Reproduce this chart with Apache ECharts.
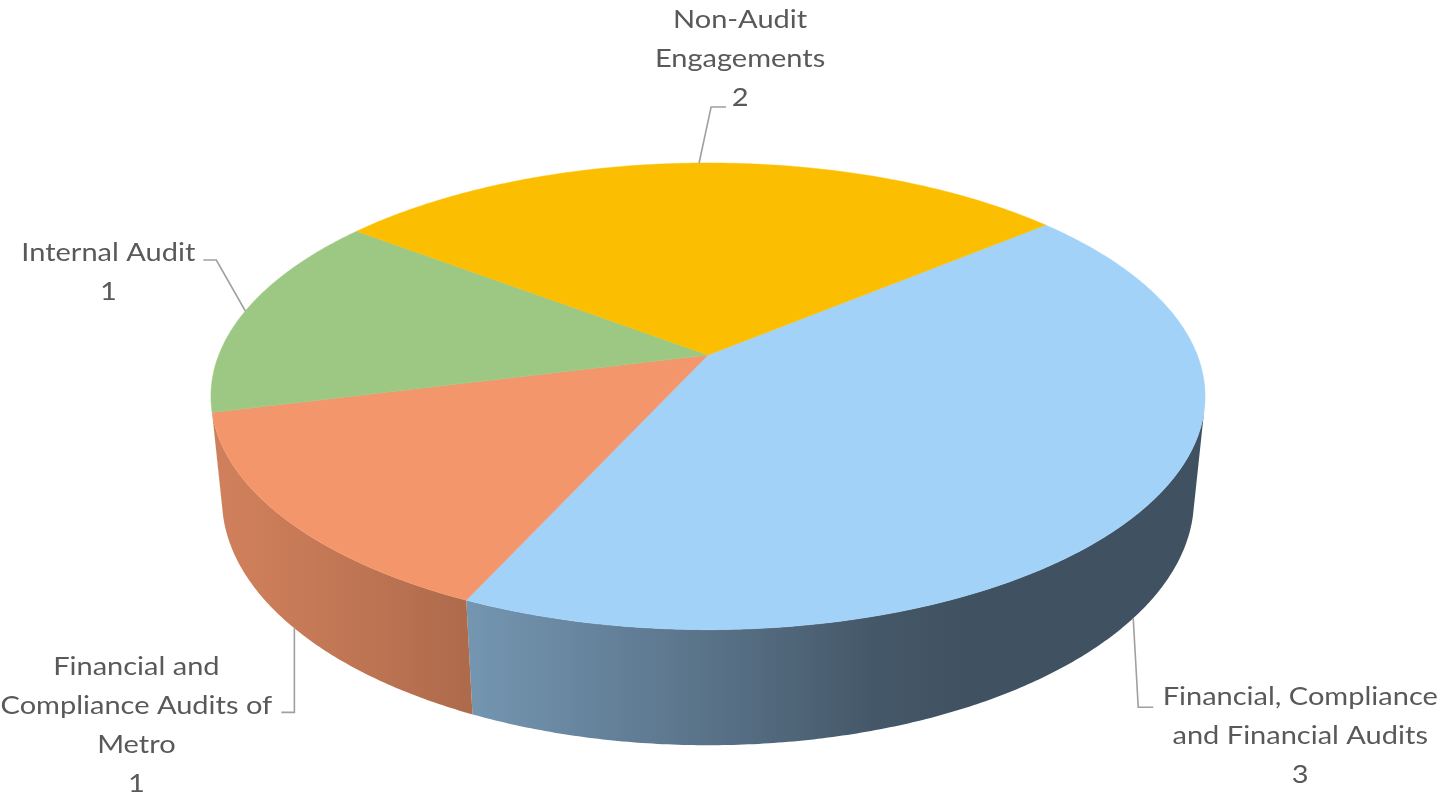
<!DOCTYPE html>
<html>
<head>
<meta charset="utf-8">
<script src="https://cdn.jsdelivr.net/npm/echarts@6/dist/echarts.min.js"></script>
<style>html,body{margin:0;padding:0;background:#fff;}#chart{width:1444px;height:796px;}</style>
</head>
<body>
<div id="chart"></div>
<script>
// ---- data ----
const categories = [
  'Financial, Compliance and Financial Audits',
  'Financial and Compliance Audits of Metro',
  'Internal Audit',
  'Non-Audit Engagements'
];
const labelTexts = [
  'Financial, Compliance\nand Financial Audits',
  'Financial and\nCompliance Audits of\nMetro',
  'Internal Audit',
  'Non-Audit\nEngagements'
];
const values = [3, 1, 1, 2];

// ---- styles / layout ----
const topColors = ['#a3d2f9', '#f4966b', '#9dc883', '#fcbe00'];
// leader layout: [elbow dx, elbow dy, horizontal dx, text dx, text dy]
const leaderLayout = [
  [5, 89, 15, 147, 29],
  [0, 84, -13, -145, 13],
  [-29, -51, -13, -95, 12],
  [12, -56, 15, 14, -48]
];
const GEO = { cx: 708, cy: 355, k: 2451, D: 5.01, c: 0.462, s: 0.887, h: 0.239, start: 39.8 };

const total = values.reduce((a, b) => a + b, 0);
const RAD = Math.PI / 180;

function proj(deg, bottom) {
  const t = deg * RAD, u = Math.cos(t), v = Math.sin(t);
  const yc = v * GEO.c - (bottom ? GEO.h * GEO.s : 0);
  const zc = GEO.D + v * GEO.s + (bottom ? GEO.h * GEO.c : 0);
  return [GEO.cx + GEO.k * u / zc, GEO.cy - GEO.k * yc / zc];
}
function arcPts(a0, a1, bottom) {
  const n = Math.max(2, Math.ceil(Math.abs(a1 - a0) / 0.5));
  const pts = [];
  for (let i = 0; i <= n; i++) pts.push(proj(a0 + (a1 - a0) * i / n, bottom));
  return pts;
}
function shade(hex, deg) {
  const f = 0.39 + 0.46 * Math.max(0, Math.cos((deg - 200) * RAD));
  const r = parseInt(hex.slice(1, 3), 16), g = parseInt(hex.slice(3, 5), 16), b = parseInt(hex.slice(5, 7), 16);
  return 'rgb(' + Math.round(r * f) + ',' + Math.round(g * f) + ',' + Math.round(b * f) + ')';
}
const visOff = Math.asin(1 / (GEO.s * GEO.D)) / RAD;
const vis0 = 180 + visOff, vis1 = 360 - visOff;

function sliceRange(i) {
  let cum = 0;
  for (let j = 0; j < i; j++) cum += values[j];
  const a1 = GEO.start - cum / total * 360;
  const a0 = a1 - values[i] / total * 360;
  return [a0, a1];
}

function renderItem(params, api) {
  const i = params.dataIndex;
  const val = api.value(0);
  const [a0, a1] = sliceRange(i);
  const color = topColors[i];
  const children = [];
  // side wall (front visible part)
  [-360, 0, 360].forEach(shift => {
    const lo = Math.max(a0 + shift, vis0), hi = Math.min(a1 + shift, vis1);
    if (hi > lo) {
      const topPts = arcPts(lo, hi, false);
      const botPts = arcPts(hi, lo, true);
      const xL = Math.min(proj(lo, false)[0], proj(lo, true)[0]);
      const xR = Math.max(proj(hi, false)[0], proj(hi, true)[0]);
      const stops = [];
      const ns = 10;
      for (let m = 0; m <= ns; m++) {
        const d = lo + (hi - lo) * m / ns;
        const x = proj(d, false)[0];
        let off = (x - xL) / Math.max(1, xR - xL);
        off = Math.min(1, Math.max(0, off));
        if (stops.length && off < stops[stops.length - 1].offset) off = stops[stops.length - 1].offset;
        stops.push({ offset: off, color: shade(color, d) });
      }
      children.push({
        type: 'polygon',
        shape: { points: topPts.concat(botPts) },
        style: {
          fill: { type: 'linear', x: xL, y: 0, x2: xR, y2: 0, global: true, colorStops: stops },
          stroke: null
        }
      });
    }
  });
  // top face
  children.push({
    type: 'polygon',
    shape: { points: [[GEO.cx, GEO.cy]].concat(arcPts(a0, a1, false)) },
    style: { fill: color, stroke: color, lineWidth: 0.5 }
  });
  // leader line & label
  const mid = (a0 + a1) / 2;
  const sinM = Math.sin(mid * RAD);
  const S = proj(mid, sinM < -1 / (GEO.s * GEO.D));
  const L = leaderLayout[i];
  const E1 = [S[0] + L[0], S[1] + L[1]];
  const E2 = [E1[0] + L[2], E1[1]];
  children.push({
    type: 'polyline',
    shape: { points: [S, E1, E2] },
    style: { stroke: '#a0a0a0', lineWidth: 1.6, fill: null }
  });
  children.push({
    type: 'text',
    x: E2[0] + L[3], y: E2[1] + L[4],
    scaleX: 1.16, scaleY: 1,
    style: {
      text: labelTexts[i] + '\n' + val,
      x: 0, y: 0,
      align: 'center', verticalAlign: 'middle',
      fontSize: 25, fontFamily: 'Lato', lineHeight: 39,
      fill: '#595959'
    }
  });
  return { type: 'group', children: children };
}

const chart = echarts.init(document.getElementById('chart'));
chart.setOption({
  backgroundColor: '#ffffff',
  animation: false,
  series: [{
    type: 'custom',
    coordinateSystem: 'none',
    renderItem: renderItem,
    data: values.map((v, i) => ({ name: categories[i], value: [v] }))
  }]
});
</script>
</body>
</html>
